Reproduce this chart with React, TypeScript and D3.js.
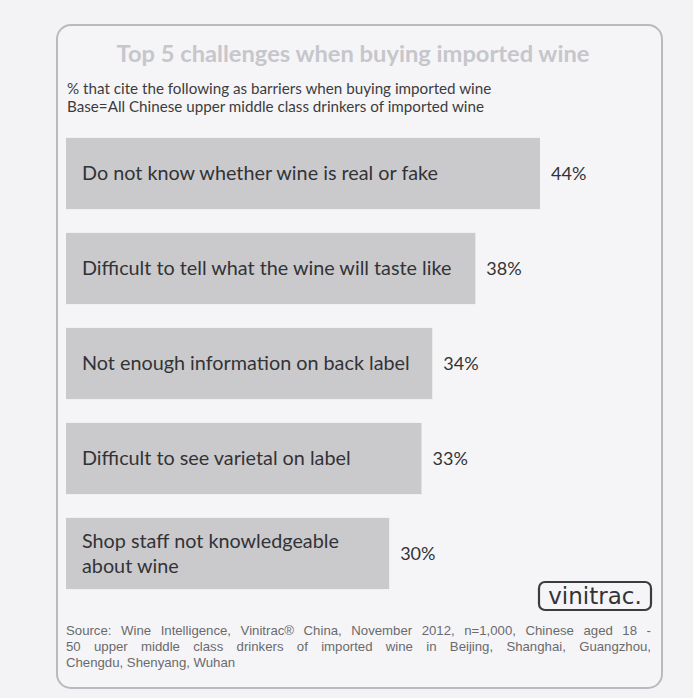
import { useEffect, useRef } from "react";
import * as d3 from "d3";

const categories: string[][] = [
  ["Do not know whether wine is real or fake"],
  ["Difficult to tell what the wine will taste like"],
  ["Not enough information on back label"],
  ["Difficult to see varietal on label"],
  ["Shop staff not knowledgeable", "about wine"],
];
const values: number[] = [44, 38, 34, 33, 30];

const TITLE = "Top 5 challenges when buying imported wine";
const SUBTITLE = [
  "% that cite the following as barriers when buying imported wine",
  "Base=All Chinese upper middle class drinkers of imported wine",
];
const SOURCE = [
  "Source: Wine Intelligence, Vinitrac\u00ae China, November 2012, n=1,000, Chinese aged 18 -",
  "50 upper middle class drinkers of imported wine in Beijing, Shanghai, Guangzhou,",
  "Chengdu, Shenyang, Wuhan",
];

const W = 693;
const H = 698;
const PAGE = "#f3f3f5";
const BAR = "#cacacd";
const INK = "#333336";
const FONT = "Lato, 'Open Sans', sans-serif";

export default function App() {
  const svgRef = useRef<SVGSVGElement>(null);

  useEffect(() => {
    const svgEl = svgRef.current;
    if (!svgEl) return;
    const svg = d3.select(svgEl);
    svg.selectAll("*").remove();

    svg.append("rect").attr("width", W).attr("height", H).attr("fill", PAGE);

    // rounded panel
    svg
      .append("rect")
      .attr("x", 57)
      .attr("y", 25)
      .attr("width", 605)
      .attr("height", 663)
      .attr("rx", 14)
      .attr("fill", "#f5f5f7")
      .attr("stroke", "#b9b9be")
      .attr("stroke-width", 2);

    svg
      .append("text")
      .attr("x", 353)
      .attr("y", 62)
      .attr("text-anchor", "middle")
      .attr("font-family", FONT)
      .attr("font-size", 23.7)
      .attr("font-weight", 700)
      .attr("fill", "#c6c6cb")
      .text(TITLE);

    svg
      .selectAll(".sub")
      .data(SUBTITLE)
      .enter()
      .append("text")
      .attr("class", "sub")
      .attr("x", 67)
      .attr("y", (_, i) => 94 + i * 18)
      .attr("font-family", FONT)
      .attr("font-size", 15.2)
      .attr("fill", "#3c3c40")
      .text((d) => d);

    const x = d3.scaleLinear().domain([0, 44]).range([0, 474]);
    const y = d3
      .scaleBand<number>()
      .domain(d3.range(values.length))
      .range([126, 601])
      .paddingInner(0.25)
      .paddingOuter(0.125);

    const x0 = 66;

    const g = svg.append("g");
    g.selectAll("rect")
      .data(values)
      .enter()
      .append("rect")
      .attr("x", x0)
      .attr("y", (_, i) => y(i)!)
      .attr("width", (d) => x(d))
      .attr("height", y.bandwidth())
      .attr("fill", BAR);

    categories.forEach((lines, i) => {
      const cy = y(i)! + y.bandwidth() / 2;
      const lh = 25;
      const t = g
        .append("text")
        .attr("font-family", FONT)
        .attr("font-size", 19.8)
        .attr("fill", INK);
      lines.forEach((ln, j) => {
        t.append("tspan")
          .attr("x", x0 + 16)
          .attr("y", cy + (j - (lines.length - 1) / 2) * lh)
          .attr("dy", "0.35em")
          .text(ln);
      });
    });

    g.selectAll(".val")
      .data(values)
      .enter()
      .append("text")
      .attr("class", "val")
      .attr("x", (d) => x0 + x(d) + 11)
      .attr("y", (_, i) => y(i)! + y.bandwidth() / 2)
      .attr("dy", "0.35em")
      .attr("font-family", FONT)
      .attr("font-size", 18)
      .attr("fill", INK)
      .text((d) => `${d}%`);

    // vinitrac logo
    const logo = svg.append("g").attr("transform", "translate(539,582)");
    logo
      .append("rect")
      .attr("width", 112)
      .attr("height", 28)
      .attr("rx", 6)
      .attr("fill", "none")
      .attr("stroke", "#3c3c40")
      .attr("stroke-width", 2.2);
    logo
      .append("text")
      .attr("x", 56)
      .attr("y", 22)
      .attr("text-anchor", "middle")
      .attr("font-family", "'DejaVu Sans', sans-serif")
      .attr("font-size", 23)
      .attr("fill", "#333336")
      .text("vinitrac.");

    // source note, justified by word spacing
    const srcW = 585;
    svg
      .selectAll(".src")
      .data(SOURCE)
      .enter()
      .append("text")
      .attr("class", "src")
      .attr("x", 66)
      .attr("y", (_, i) => 635 + i * 16)
      .attr("font-family", "'Liberation Sans', Arial, sans-serif")
      .attr("font-size", 13.2)
      .attr("fill", "#6a6a6e")
      .text((d) => d)
      .each(function (d, i) {
        if (i === SOURCE.length - 1) return;
        const el = this as SVGTextElement;
        const natural = el.getComputedTextLength();
        const spaces = d.split(" ").length - 1;
        if (natural < srcW) {
          d3.select(el).attr("word-spacing", (srcW - natural) / spaces);
        } else {
          d3.select(el)
            .attr("textLength", srcW)
            .attr("lengthAdjust", "spacingAndGlyphs");
        }
      });
  }, []);

  return (
    <svg
      ref={svgRef}
      width={W}
      height={H}
      style={{ position: "absolute", left: 0, top: 0, display: "block" }}
    />
  );
}
